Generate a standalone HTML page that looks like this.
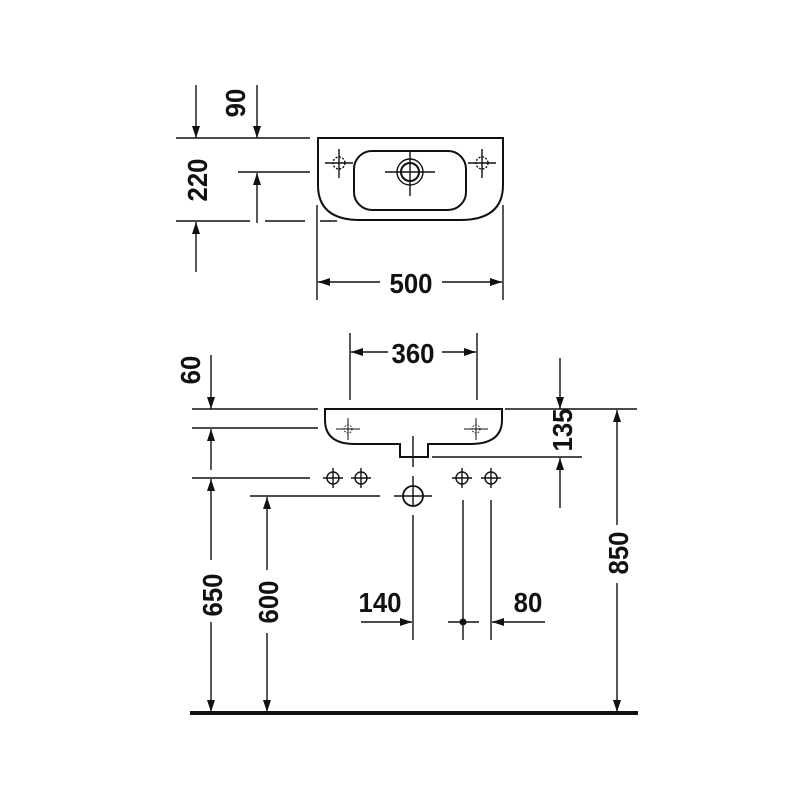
<!DOCTYPE html>
<html><head><meta charset="utf-8"><style>
html,body{margin:0;padding:0;background:#fff;}
svg{display:block;}
text{font-family:"Liberation Sans",sans-serif;font-weight:bold;font-size:28px;fill:#111;}
</style></head><body>
<svg width="800" height="800" viewBox="0 0 800 800" xmlns="http://www.w3.org/2000/svg">
<defs>
<marker id="a" markerWidth="12" markerHeight="8" refX="12" refY="4" orient="auto" markerUnits="userSpaceOnUse">
<path d="M0,0 L12,4 L0,8 Z" fill="#111"/></marker>
</defs>
<g stroke="#111" stroke-width="1.4" fill="none">
<!-- TOP VIEW -->
<path d="M318,138 L503,138 L503,185 Q503,220 460,220 L360,220 Q318,220 318,185 Z" stroke-width="2"/>
<rect x="354" y="151" width="112" height="59" rx="18" stroke-width="2"/>
<circle cx="410" cy="172" r="13"/><circle cx="410" cy="172" r="9" stroke-width="2"/>
<line x1="385" y1="172" x2="435" y2="172"/><line x1="410" y1="152" x2="410" y2="196"/>
<circle cx="339" cy="163" r="6" stroke-dasharray="2,1.5"/>
<line x1="325" y1="163" x2="353" y2="163"/><line x1="339" y1="149" x2="339" y2="178"/>
<circle cx="482" cy="163" r="6" stroke-dasharray="2,1.5"/>
<line x1="468" y1="163" x2="496" y2="163"/><line x1="482" y1="149" x2="482" y2="178"/>
<line x1="176" y1="138" x2="310" y2="138"/>
<line x1="238" y1="172" x2="310" y2="172"/>
<line x1="176" y1="221" x2="250" y2="221"/>
<line x1="265" y1="221" x2="305" y2="221"/><line x1="320" y1="221" x2="337" y2="221"/>
<line x1="196" y1="85" x2="196" y2="138" marker-end="url(#a)"/>
<line x1="257" y1="85" x2="257" y2="138" marker-end="url(#a)"/>
<line x1="196" y1="272" x2="196" y2="222" marker-end="url(#a)"/>
<line x1="257" y1="223" x2="257" y2="173" marker-end="url(#a)"/>
<line x1="317" y1="205" x2="317" y2="300"/><line x1="503" y1="205" x2="503" y2="300"/>
<line x1="380" y1="282" x2="318" y2="282" marker-end="url(#a)"/>
<line x1="442" y1="282" x2="502" y2="282" marker-end="url(#a)"/>
<!-- FRONT VIEW -->
<path d="M325,409 L502,409 L502,420 Q502,444 470,444 L428,444 L428,457 L400,457 L400,444 L355,444 Q325,444 325,420 Z" stroke-width="2"/>
<line x1="413" y1="436" x2="413" y2="467"/>
<g stroke-width="1"><line x1="336" y1="429" x2="360" y2="429"/><line x1="348" y1="418" x2="348" y2="440"/>
<line x1="464" y1="429" x2="488" y2="429"/><line x1="476" y1="418" x2="476" y2="440"/></g>
<circle cx="348" cy="429" r="4" stroke-dasharray="1.5,1.5" stroke-width="1"/>
<circle cx="476" cy="429" r="4" stroke-dasharray="1.5,1.5" stroke-width="1"/>
<line x1="192" y1="409" x2="318" y2="409"/><line x1="192" y1="428" x2="318" y2="428"/>
<line x1="505" y1="409" x2="637" y2="409"/>
<line x1="432" y1="457" x2="582" y2="457"/>
<line x1="192" y1="478" x2="310" y2="478"/>
<line x1="250" y1="496" x2="380" y2="496"/>
<line x1="350" y1="333" x2="350" y2="400"/><line x1="477" y1="333" x2="477" y2="400"/>
<line x1="388" y1="352" x2="351" y2="352" marker-end="url(#a)"/>
<line x1="442" y1="352" x2="476" y2="352" marker-end="url(#a)"/>
<line x1="211" y1="355" x2="211" y2="409" marker-end="url(#a)"/>
<line x1="211" y1="470" x2="211" y2="429" marker-end="url(#a)"/>
<line x1="211" y1="560" x2="211" y2="479" marker-end="url(#a)"/>
<line x1="211" y1="622" x2="211" y2="712" marker-end="url(#a)"/>
<line x1="267" y1="570" x2="267" y2="497" marker-end="url(#a)"/>
<line x1="267" y1="633" x2="267" y2="712" marker-end="url(#a)"/>
<line x1="560" y1="358" x2="560" y2="409" marker-end="url(#a)"/>
<line x1="560" y1="508" x2="560" y2="458" marker-end="url(#a)"/>
<line x1="617" y1="525" x2="617" y2="410" marker-end="url(#a)"/>
<line x1="617" y1="583" x2="617" y2="712" marker-end="url(#a)"/>
<g>
<circle cx="333" cy="478" r="6"/><line x1="323" y1="478" x2="343" y2="478"/><line x1="333" y1="468" x2="333" y2="488"/>
<circle cx="361" cy="478" r="6"/><line x1="351" y1="478" x2="371" y2="478"/><line x1="361" y1="468" x2="361" y2="488"/>
<circle cx="462" cy="478" r="6"/><line x1="452" y1="478" x2="472" y2="478"/><line x1="462" y1="468" x2="462" y2="488"/>
<circle cx="491" cy="478" r="6"/><line x1="481" y1="478" x2="501" y2="478"/><line x1="491" y1="468" x2="491" y2="488"/>
<circle cx="413" cy="496" r="10" stroke-width="1.8"/><line x1="394" y1="496" x2="432" y2="496"/><line x1="413" y1="476" x2="413" y2="506"/>
</g>
<line x1="413" y1="515" x2="413" y2="640"/>
<line x1="463" y1="500" x2="463" y2="640"/>
<line x1="491" y1="500" x2="491" y2="640"/>
<line x1="361" y1="622" x2="412" y2="622" marker-end="url(#a)"/>
<line x1="448" y1="622" x2="479" y2="622"/>
<line x1="545" y1="622" x2="492" y2="622" marker-end="url(#a)"/>
<line x1="190" y1="713" x2="638" y2="713" stroke-width="4"/>
</g>
<circle cx="463" cy="622" r="3.5" fill="#111"/>
<g>
<text transform="translate(245,103) rotate(-90) scale(0.92,1)" text-anchor="middle">90</text>
<text transform="translate(207,180) rotate(-90) scale(0.92,1)" text-anchor="middle">220</text>
<text transform="translate(411,293) scale(0.92,1)" text-anchor="middle">500</text>
<text transform="translate(413,363) scale(0.92,1)" text-anchor="middle">360</text>
<text transform="translate(200,370) rotate(-90) scale(0.92,1)" text-anchor="middle">60</text>
<text transform="translate(572,430) rotate(-90) scale(0.92,1)" text-anchor="middle">135</text>
<text transform="translate(628,553) rotate(-90) scale(0.92,1)" text-anchor="middle">850</text>
<text transform="translate(222,595) rotate(-90) scale(0.92,1)" text-anchor="middle">650</text>
<text transform="translate(278,602) rotate(-90) scale(0.92,1)" text-anchor="middle">600</text>
<text transform="translate(380,612) scale(0.92,1)" text-anchor="middle">140</text>
<text transform="translate(528,612) scale(0.92,1)" text-anchor="middle">80</text>
</g>
</svg>
</body></html>
